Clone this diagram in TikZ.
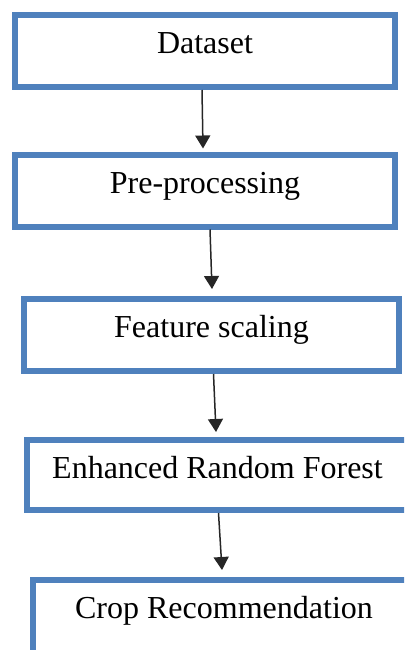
\documentclass[tikz,border=0pt]{standalone}
\usepackage{fontspec}
\setmainfont{Liberation Serif}
\usetikzlibrary{arrows.meta}
\definecolor{boxblue}{RGB}{79,129,189}
\tikzset{
  stagebox/.style={draw=boxblue, line width=6pt, inner sep=0pt,
    text height=38.5pt, text depth=33.5pt, font=\fontsize{32}{38}\selectfont},
  flowarrow/.style={-{Triangle[width=15pt,length=13pt]}, line width=1.5pt, draw=black!85},
}
\begin{document}
\begin{tikzpicture}[x=1pt,y=-1pt]
      \useasboundingbox (0,0) rectangle (404,650);
      \clip (0,0) rectangle (404,650);
      \draw
        (205,51) node[stagebox, minimum width=380pt] (data){Dataset}
        (205,190.5) node[stagebox, minimum width=380pt] (prep){Pre-processing}
        (211.5,335) node[stagebox, minimum width=375pt] (scale){Feature scaling}
        (217.5,475) node[stagebox, minimum width=381pt, text depth=31.5pt] (erf){Enhanced Random Forest}
        (224,617.5) node[stagebox, minimum width=382pt, text depth=36.5pt] (crop){Crop Recommendation};
      \begin{scope}[flowarrow]
        \draw ([xshift=-3pt]data.south) to ([xshift=-2pt,yshift=3pt]prep.north);
        \draw ([xshift=5pt]prep.south) to ([xshift=0.5pt,yshift=7pt]scale.north);
        \draw ([xshift=2pt]scale.south) to ([xshift=-1.5pt,yshift=5pt]erf.north);
        \draw ([xshift=1pt]erf.south) to ([xshift=-2pt,yshift=7pt]crop.north);
      \end{scope}
\end{tikzpicture}
\end{document}
